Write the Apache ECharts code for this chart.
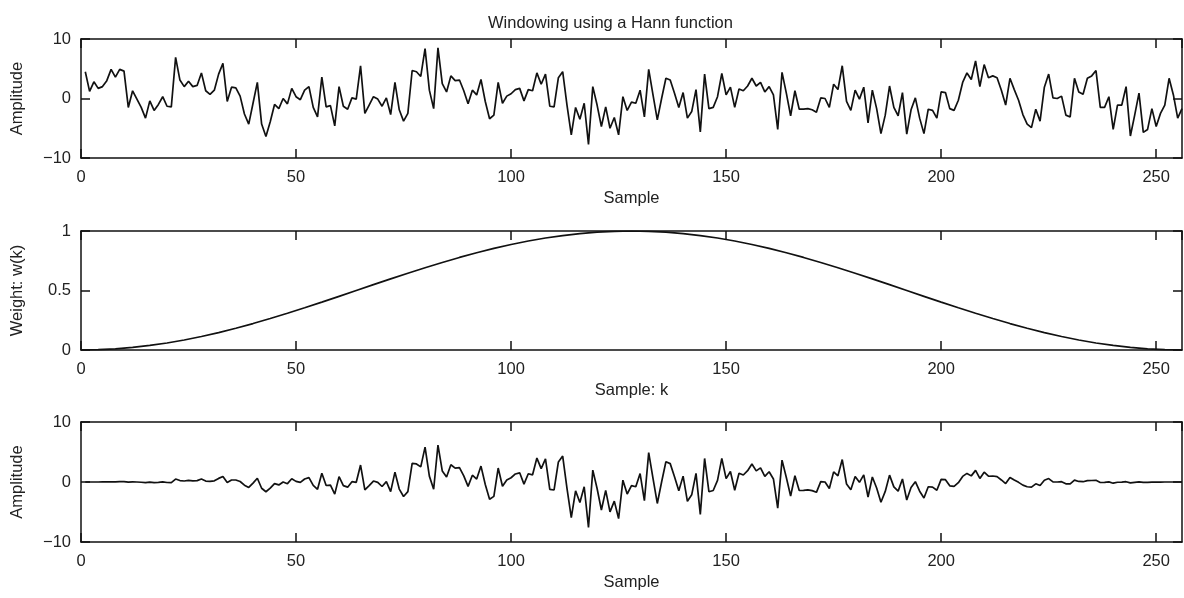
<!DOCTYPE html>
<html>
<head>
<meta charset="utf-8">
<script src="https://cdn.jsdelivr.net/npm/echarts@6/dist/echarts.min.js"></script>
<style>
html,body{margin:0;padding:0;background:#fff;}
#chart{width:1184px;height:598px;}
</style>
</head>
<body>
<div id="chart"></div>
<script>
// Raw signal, samples 1..256
const signal = [4.5,1.2,2.8,1.7,2.0,3.0,4.9,3.6,4.9,4.6,
-1.5,1.3,-0.1,-1.5,-3.3,-0.4,-2.0,-1.0,0.3,-1.3,
-1.4,6.9,3.1,2.0,2.9,2.0,2.2,4.3,1.3,0.7,
1.4,4.1,5.9,-0.5,1.9,1.8,0.4,-2.6,-4.3,-0.8,
2.7,-4.3,-6.4,-3.9,-1.0,-1.7,0.0,-0.9,1.7,0.3,
-0.2,1.4,2.0,-1.5,-3.1,3.6,-1.4,-1.2,-4.6,2.0,
-1.3,-1.8,0.1,-0.1,5.5,-2.5,-1.1,0.3,-0.1,-1.3,
0.1,-2.7,2.7,-1.9,-3.8,-2.5,4.7,4.5,3.7,8.4,
1.4,-1.7,8.5,2.5,1.1,3.8,3.0,3.1,1.3,-0.9,
1.4,0.6,3.2,-0.5,-3.4,-2.8,2.7,-0.8,0.4,0.8,
1.5,1.7,-0.4,1.5,1.3,4.3,2.4,4.1,-1.3,-1.4,
3.5,4.5,-1.1,-6.1,-1.5,-3.5,-0.8,-7.7,2.0,-1.1,
-4.7,-1.4,-5.0,-3.2,-6.1,0.3,-2.0,-0.6,-0.8,1.4,
-3.1,4.9,0.6,-3.6,0.0,3.4,3.1,0.9,-1.5,1.0,
-3.3,-2.2,1.5,-5.6,4.1,-1.7,-1.5,0.3,4.2,0.6,
1.9,-1.5,1.6,1.3,2.1,3.4,2.1,2.7,1.1,2.0,
0.6,-5.2,4.4,0.9,-2.9,1.3,-1.8,-1.8,-1.7,-1.9,
-2.3,0.1,0.0,-1.5,2.4,1.5,5.5,-0.5,-2.0,1.4,
-0.1,1.9,-4.1,1.4,-1.7,-5.9,-2.8,2.1,-1.5,-2.9,
1.0,-6.0,-1.9,0.1,-3.3,-5.9,-1.8,-2.0,-3.3,1.1,
1.0,-1.7,-2.0,-0.3,2.7,4.3,3.2,6.3,2.0,5.7,
3.5,3.8,3.5,1.4,-1.1,3.4,1.5,-0.3,-2.7,-4.3,
-4.9,-1.8,-3.8,1.9,4.1,0.1,0.0,0.4,-2.8,-3.1,
3.4,1.1,0.7,3.4,3.8,4.7,-1.5,-1.5,0.3,-5.2,
-1.1,-1.1,2.0,-6.3,-2.8,0.9,-5.7,-5.2,-1.7,-4.7,
-2.5,-1.1,3.4,0.6,-3.3,-1.7];

// Hann window weights at samples 0,4,8,...,256
const hannStep = 4;
const hannWeights = [0,0.0024,0.0096,0.0215,0.0381,0.0590,0.0843,0.1135,0.1464,0.1828,0.2222,0.2643,0.3087,0.3549,0.4025,0.4510,0.5,0.5490,0.5976,0.6451,0.6913,0.7357,0.7778,0.8172,0.8536,0.8865,0.9157,0.9410,0.9619,0.9785,0.9904,0.9976,1,
0.9976,0.9904,0.9785,0.9619,0.9410,0.9157,0.8865,0.8536,0.8172,0.7778,0.7357,0.6913,0.6451,0.5976,0.5490,0.5,0.4510,0.4025,0.3549,0.3087,0.2643,0.2222,0.1828,0.1464,0.1135,0.0843,0.0590,0.0381,0.0215,0.0096,0.0024,0];

// Windowed signal, samples 1..256
const windowed = [0.00,0.00,0.00,0.00,0.01,0.02,0.04,0.03,0.06,0.07,
-0.03,0.03,0.00,-0.04,-0.11,-0.02,-0.09,-0.05,0.02,-0.08,
-0.09,0.49,0.24,0.17,0.26,0.20,0.23,0.49,0.16,0.09,
0.19,0.60,0.92,-0.08,0.33,0.33,0.08,-0.53,-0.91,-0.18,
0.63,-1.04,-1.62,-1.03,-0.28,-0.49,0.00,-0.28,0.54,0.10,
-0.07,0.50,0.73,-0.57,-1.21,1.45,-0.58,-0.51,-2.02,0.90,
-0.60,-0.86,0.05,-0.05,2.82,-1.31,-0.59,0.16,-0.06,-0.75,
0.06,-1.61,1.65,-1.18,-2.41,-1.61,3.09,3.01,2.52,5.81,
0.98,-1.21,6.16,1.84,0.82,2.88,2.30,2.41,1.02,-0.72,
1.13,0.49,2.65,-0.42,-2.87,-2.39,2.33,-0.70,0.35,0.71,
1.34,1.53,-0.36,1.37,1.20,3.99,2.24,3.86,-1.23,-1.33,
3.35,4.33,-1.06,-5.92,-1.46,-3.42,-0.79,-7.58,1.98,-1.09,
-4.67,-1.39,-4.98,-3.19,-6.09,0.30,-2.00,-0.60,-0.80,1.40,
-3.10,4.89,0.60,-3.58,0.00,3.37,3.06,0.89,-1.47,0.98,
-3.22,-2.14,1.45,-5.39,3.92,-1.62,-1.42,0.28,3.93,0.56,
1.75,-1.37,1.45,1.17,1.88,3.01,1.85,2.35,0.95,1.71,
0.51,-4.35,3.64,0.74,-2.34,1.04,-1.42,-1.40,-1.30,-1.44,
-1.72,0.07,0.00,-1.07,1.69,1.04,3.74,-0.33,-1.31,0.90,
-0.06,1.18,-2.50,0.84,-1.00,-3.38,-1.57,1.15,-0.81,-1.52,
0.51,-3.00,-0.93,0.05,-1.53,-2.66,-0.79,-0.85,-1.37,0.44,
0.39,-0.64,-0.73,-0.11,0.93,1.43,1.02,1.94,0.59,1.63,
0.96,1.00,0.89,0.34,-0.26,0.76,0.32,-0.06,-0.52,-0.79,
-0.85,-0.30,-0.59,0.28,0.57,0.01,0.00,0.05,-0.30,-0.31,
0.31,0.09,0.05,0.24,0.25,0.28,-0.08,-0.07,0.01,-0.20,
-0.04,-0.03,0.05,-0.14,-0.05,0.01,-0.07,-0.05,-0.01,-0.03,
-0.01,0.00,0.00,0.00,0.00,0.00];

const xTicks = [0, 50, 100, 150, 200, 250];
const ampTicks = [-10, 0, 10];
const weightTicks = [0, 0.5, 1];

const titleText = 'Windowing using a Hann function';
const xNames = ['Sample', 'Sample: k', 'Sample'];
const yNames = ['Amplitude', 'Weight: w(k)', 'Amplitude'];

const FONT = 'Liberation Sans, Arial, Helvetica, sans-serif';
const TXT = '#222';
const LINE = '#111';

const grids = [
  {left: 81, top: 39, width: 1101, height: 119},
  {left: 81, top: 231, width: 1101, height: 119},
  {left: 81, top: 422, width: 1101, height: 120}
];

const yRanges = [
  {min: ampTicks[0], max: ampTicks[ampTicks.length-1], interval: ampTicks[1]-ampTicks[0]},
  {min: weightTicks[0], max: weightTicks[weightTicks.length-1], interval: weightTicks[1]-weightTicks[0]},
  {min: ampTicks[0], max: ampTicks[ampTicks.length-1], interval: ampTicks[1]-ampTicks[0]}
];

const fmtNum = v => (v < 0 ? '\u2212' + String(-v) : String(v));

const axisLineStyle = {show: true, onZero: false, lineStyle: {color: LINE, width: 1.5}};
const tickStyle = {show: true, inside: true, length: 9, lineStyle: {color: LINE, width: 1.5}};

const xAxes = [], yAxes = [];
grids.forEach((g, i) => {
  xAxes.push({
    type: 'value', gridIndex: i, position: 'bottom',
    min: 0, max: 256, interval: xTicks[1] - xTicks[0],
    axisLine: axisLineStyle, axisTick: tickStyle, splitLine: {show: false},
    axisLabel: {show: true, margin: 11, color: TXT, fontSize: 16.5, fontFamily: FONT, showMaxLabel: false,
      formatter: v => xTicks.indexOf(v) >= 0 ? String(v) : ''},
    name: xNames[i], nameLocation: 'middle', nameGap: 32,
    nameTextStyle: {color: TXT, fontSize: 16.5, fontFamily: FONT}
  });
  xAxes.push({
    type: 'value', gridIndex: i, position: 'top',
    min: 0, max: 256, interval: xTicks[1] - xTicks[0],
    axisLine: axisLineStyle, axisTick: tickStyle, splitLine: {show: false},
    axisLabel: {show: false}
  });
  yAxes.push({
    type: 'value', gridIndex: i, position: 'left',
    min: yRanges[i].min, max: yRanges[i].max, interval: yRanges[i].interval,
    axisLine: axisLineStyle, axisTick: tickStyle, splitLine: {show: false},
    axisLabel: {show: true, margin: 10, color: TXT, fontSize: 16.5, fontFamily: FONT, formatter: fmtNum},
    name: yNames[i], nameLocation: 'middle', nameGap: 55, nameRotate: 90,
    nameTextStyle: {color: TXT, fontSize: 16.5, fontFamily: FONT}
  });
  yAxes.push({
    type: 'value', gridIndex: i, position: 'right',
    min: yRanges[i].min, max: yRanges[i].max, interval: yRanges[i].interval,
    axisLine: axisLineStyle, axisTick: tickStyle, splitLine: {show: false},
    axisLabel: {show: false}
  });
});

const lineSeries = (xi, yi, data) => ({
  type: 'line', xAxisIndex: xi, yAxisIndex: yi, data: data,
  showSymbol: false, symbol: 'none', smooth: false, clip: true,
  lineStyle: {color: LINE, width: 1.7}, silent: true
});

const signalData = signal.map((v, i) => [i + 1, v]);
const hannData = hannWeights.map((v, i) => [i * hannStep, v]);
const windowedData = windowed.map((v, i) => [i + 1, v]);

const chart = echarts.init(document.getElementById('chart'), null, {renderer: 'canvas'});
chart.setOption({
  animation: false,
  backgroundColor: '#fff',
  title: {
    text: titleText, left: 483, top: 10,
    textStyle: {color: TXT, fontSize: 16.5, fontWeight: 'normal', fontFamily: FONT}
  },
  grid: grids,
  xAxis: xAxes,
  yAxis: yAxes,
  series: [
    lineSeries(0, 0, signalData),
    lineSeries(2, 2, hannData),
    lineSeries(4, 4, windowedData)
  ]
});
</script>
</body>
</html>
